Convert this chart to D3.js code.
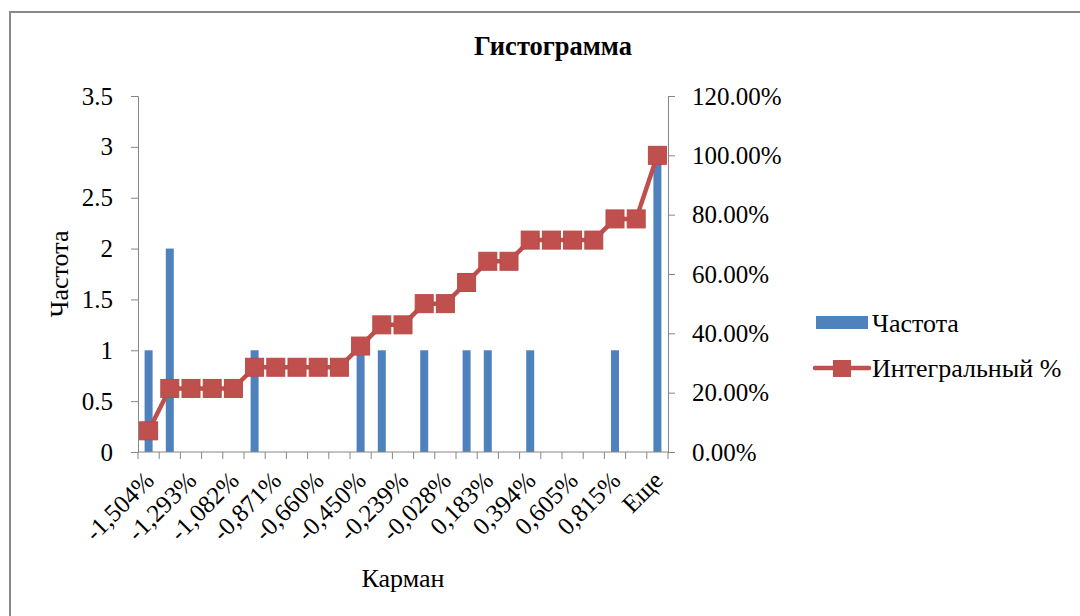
<!DOCTYPE html>
<html>
<head>
  <meta charset="utf-8">
  <title>Гистограмма</title>
  <script src="https://d3js.org/d3.v7.min.js"></script>
  <style>
    body { margin: 0; background: #fff; }
    svg text { font-family: "Liberation Serif", "Times New Roman", serif; fill: #000; }
    .axis path, .axis line { stroke: #868686; }
    .axis text { font-size: 25px; }
  </style>
</head>
<body>
<div id="chart"></div>
<script>
  // bins (Карман), every other one is labelled on the axis
  const bins = ["-1,504%", "-1,399%", "-1,293%", "-1,188%", "-1,082%", "-0,977%", "-0,871%", "-0,766%",
    "-0,660%", "-0,555%", "-0,450%", "-0,344%", "-0,239%", "-0,133%", "-0,028%", "0,078%",
    "0,183%", "0,289%", "0,394%", "0,500%", "0,605%", "0,710%", "0,815%", "0,921%", "Еще"];
  const freq = [1, 2, 0, 0, 0, 1, 0, 0, 0, 0, 1, 1, 0, 1, 0, 1, 1, 0, 1, 0, 0, 0, 1, 0, 3];
  const cumPct = [7.14, 21.43, 21.43, 21.43, 21.43, 28.57, 28.57, 28.57, 28.57, 28.57, 35.71, 42.86, 42.86,
    50.00, 50.00, 57.14, 64.29, 64.29, 71.43, 71.43, 71.43, 71.43, 78.57, 78.57, 100.00];
  const leftTicks = [0, 0.5, 1, 1.5, 2, 2.5, 3, 3.5];
  const rightTicks = [0, 20, 40, 60, 80, 100, 120];

  const W = 1080, H = 616;
  const plot = {left: 138, right: 668, top: 96, bottom: 452};

  const svg = d3.select("#chart").append("svg")
    .attr("width", W).attr("height", H);

  // chart frame
  svg.append("rect")
    .attr("x", 10).attr("y", 12)
    .attr("width", 1090).attr("height", 620)
    .attr("fill", "#fff").attr("stroke", "#898989").attr("stroke-width", 2);

  const x = d3.scaleBand().domain(bins).range([plot.left, plot.right]);
  const yL = d3.scaleLinear().domain([0, 3.5]).range([plot.bottom, plot.top]);
  const yR = d3.scaleLinear().domain([0, 120]).range([plot.bottom, plot.top]);

  // bars
  const barW = 8;
  svg.append("g").selectAll("rect")
    .data(bins.map((b, i) => ({b: b, v: freq[i]})).filter(d => d.v > 0))
    .join("rect")
    .attr("x", d => x(d.b) + x.bandwidth() / 2 - barW / 2)
    .attr("y", d => yL(d.v))
    .attr("width", barW)
    .attr("height", d => yL(0) - yL(d.v))
    .attr("fill", "#4F81BD");

  // axes
  svg.append("g").attr("class", "axis")
    .attr("transform", `translate(${plot.left},0)`)
    .call(d3.axisLeft(yL).tickValues(leftTicks).tickSize(7).tickPadding(18).tickFormat(d3.format("")));

  svg.append("g").attr("class", "axis")
    .attr("transform", `translate(${plot.right},0)`)
    .call(d3.axisRight(yR).tickValues(rightTicks).tickSize(7).tickPadding(17).tickFormat(d => d.toFixed(2) + "%"));

  const xAxis = svg.append("g").attr("class", "axis")
    .attr("transform", `translate(0,${plot.bottom})`);
  xAxis.append("line")
    .attr("x1", plot.left).attr("x2", plot.right)
    .attr("stroke", "#868686");
  xAxis.selectAll(".tk")
    .data(d3.range(bins.length + 1))
    .join("line")
    .attr("x1", i => plot.left + i * x.step()).attr("x2", i => plot.left + i * x.step())
    .attr("y1", 0).attr("y2", 7)
    .attr("stroke", "#868686");
  xAxis.selectAll(".lbl")
    .data(bins.filter((b, i) => i % 2 === 0))
    .join("text")
    .attr("transform", d => `translate(${x(d) + x.bandwidth() / 2 + 7},${30}) rotate(-45)`)
    .attr("text-anchor", "end")
    .attr("font-size", "25px")
    .text(d => d);

  // cumulative line
  const line = d3.line()
    .x((d, i) => x(bins[i]) + x.bandwidth() / 2)
    .y(d => yR(d));
  svg.append("path")
    .datum(cumPct)
    .attr("d", line)
    .attr("fill", "none")
    .attr("stroke", "#C0504D")
    .attr("stroke-width", 4.5)
    .attr("stroke-linejoin", "round");

  const mk = 18;
  svg.append("g").selectAll("rect")
    .data(cumPct)
    .join("rect")
    .attr("x", (d, i) => x(bins[i]) + x.bandwidth() / 2 - mk / 2)
    .attr("y", d => yR(d) - mk / 2)
    .attr("width", mk).attr("height", mk)
    .attr("fill", "#C0504D")
    .attr("stroke", "#B84A47").attr("stroke-width", 1);

  // titles
  svg.append("text")
    .attr("x", 553).attr("y", 55)
    .attr("text-anchor", "middle")
    .attr("font-size", "26.5px").attr("font-weight", "bold")
    .text("Гистограмма");

  svg.append("text")
    .attr("transform", `translate(68,274) rotate(-90)`)
    .attr("text-anchor", "middle")
    .attr("font-size", "26px")
    .text("Частота");

  svg.append("text")
    .attr("x", 403).attr("y", 587)
    .attr("text-anchor", "middle")
    .attr("font-size", "26px")
    .text("Карман");

  // legend
  const lg = svg.append("g");
  lg.append("rect")
    .attr("x", 816).attr("y", 316).attr("width", 52).attr("height", 13)
    .attr("fill", "#4F81BD");
  lg.append("text")
    .attr("x", 872).attr("y", 332).attr("font-size", "26px").text("Частота");
  lg.append("line")
    .attr("x1", 815).attr("x2", 869).attr("y1", 368).attr("y2", 368)
    .attr("stroke", "#C0504D").attr("stroke-width", 4.5).attr("stroke-linecap", "round");
  lg.append("rect")
    .attr("x", 833).attr("y", 360).attr("width", 18).attr("height", 17)
    .attr("fill", "#C0504D");
  lg.append("text")
    .attr("x", 872).attr("y", 377).attr("font-size", "26px").text("Интегральный %");
</script>
</body>
</html>
